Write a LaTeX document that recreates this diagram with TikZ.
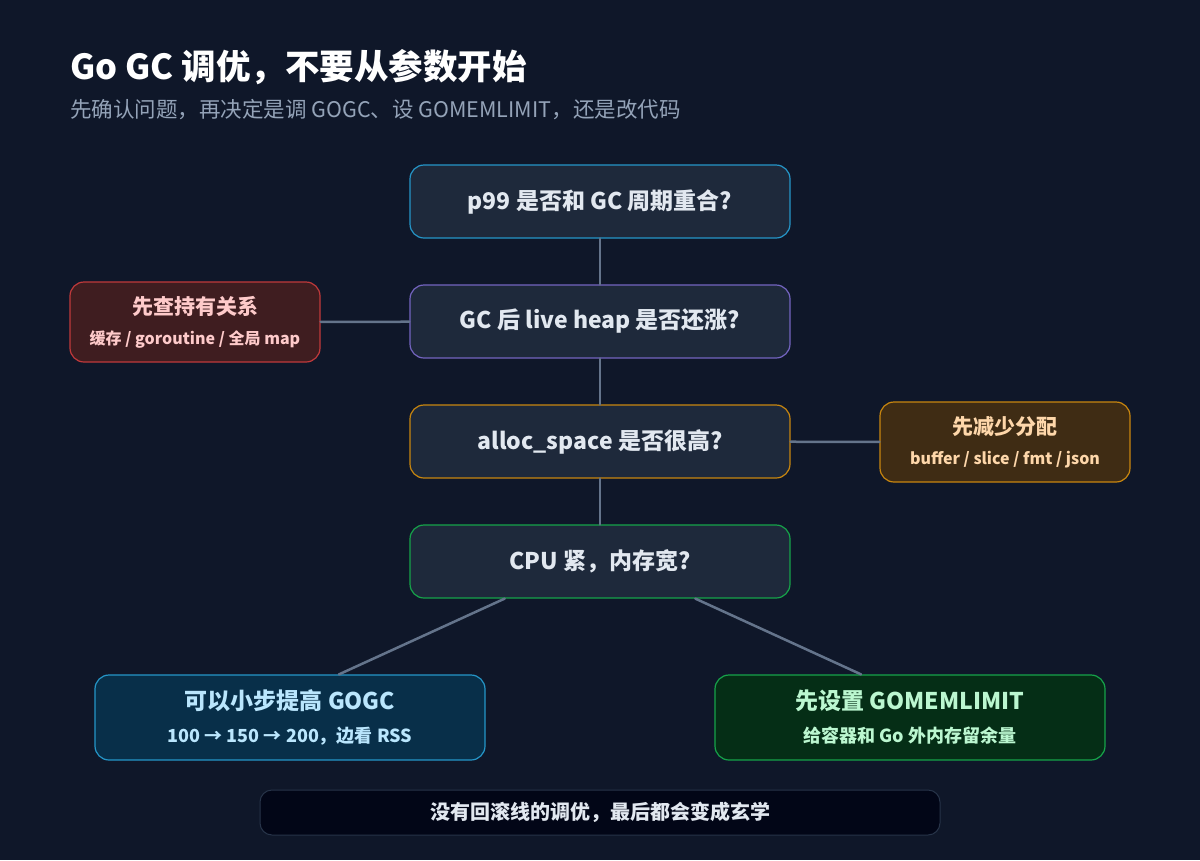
\documentclass[tikz,border=0pt]{standalone}
\usepackage{fontspec}
\setmainfont{Noto Sans CJK SC}
\usetikzlibrary{calc}
\definecolor{bgc}{HTML}{0F1729}
\definecolor{qfill}{HTML}{1E293B}
\definecolor{qtext}{HTML}{E2E8F0}
\definecolor{linec}{HTML}{64748B}
\definecolor{subc}{HTML}{94A3B8}
\definecolor{cyanb}{HTML}{2596C8}
\definecolor{purpb}{HTML}{7464C0}
\definecolor{amberb}{HTML}{C8860F}
\definecolor{greenb}{HTML}{16A34A}
\definecolor{redf}{HTML}{3F1D20}
\definecolor{redb}{HTML}{C0393B}
\definecolor{redt}{HTML}{FECACA}
\definecolor{brownf}{HTML}{3F2C14}
\definecolor{brownt}{HTML}{FED7AA}
\definecolor{bluef}{HTML}{082F49}
\definecolor{bluet}{HTML}{BAE6FD}
\definecolor{greenf}{HTML}{052E16}
\definecolor{greent}{HTML}{BBF7D0}
\definecolor{footf}{HTML}{020617}
\definecolor{footb}{HTML}{273449}

\begin{document}
\begin{tikzpicture}[x=1pt,y=-1pt,line cap=round,line join=round,
  qbox/.style={draw,line width=1.2pt,rounded corners=14pt,fill=qfill,text=qtext,minimum width=380pt,minimum height=73pt,font=\fontsize{23}{27}\selectfont\bfseries},
  sidebox/.style={draw,line width=1.2pt,rounded corners=14pt,minimum width=250pt,minimum height=80pt,align=center,font=\fontsize{21}{30}\selectfont\bfseries},
  leafbox/.style={draw,line width=1.2pt,rounded corners=14pt,minimum width=390pt,minimum height=85pt,align=center,font=\fontsize{23}{33}\selectfont\bfseries},
  link/.style={draw=linec,line width=2.5pt}]
\fill[bgc] (0,0) rectangle (1200,860);
\node[anchor=base west,text=white,font=\fontsize{34.5}{40}\selectfont\bfseries,inner sep=0] (title) at (70,79) {Go GC 调优，不要从参数开始};
\node[anchor=base west,text=subc,font=\fontsize{21.5}{25}\selectfont,inner sep=0] (subtitle) at (70,117) {先确认问题，再决定是调 GOGC、设 GOMEMLIMIT，还是改代码};
\node[qbox,draw=cyanb] (p99) at (600,201.5) {p99 是否和 GC 周期重合?};
\node[qbox,draw=purpb] (heap) at (600,321.5) {GC 后 live heap 是否还涨?};
\node[qbox,draw=amberb] (alloc) at (600,441.5) {alloc\_space 是否很高?};
\node[qbox,draw=greenb] (cpu) at (600,561.5) {CPU 紧，内存宽?};
\node[sidebox,draw=redb,fill=redf,text=redt] (hold) at (195,322) {先查持有关系\\{\fontsize{16}{19}\selectfont 缓存 / goroutine / 全局 map}};
\node[sidebox,draw=amberb,fill=brownf,text=brownt] (reduce) at (1005,442) {先减少分配\\{\fontsize{16}{19}\selectfont buffer / slice / fmt / json}};
\node[leafbox,draw=cyanb,fill=bluef,text=bluet] (gogc) at (290,717.5) {可以小步提高 GOGC\\{\fontsize{18}{21}\selectfont 100 → 150 → 200，边看 RSS}};
\node[leafbox,draw=greenb,fill=greenf,text=greent] (limit) at (910,717.5) {先设置 GOMEMLIMIT\\{\fontsize{18}{21}\selectfont 给容器和 Go 外内存留余量}};
\node[draw=footb,line width=1pt,rounded corners=12pt,fill=footf,text=qtext,minimum width=680pt,minimum height=45pt,font=\fontsize{20}{24}\selectfont\bfseries] (foot) at (600,812.5) {没有回滚线的调优，最后都会变成玄学};
\draw[link] (p99) -- (heap);
\draw[link] (heap) -- (alloc);
\draw[link] (alloc) -- (cpu);
\draw[link] (hold) -- (heap);
\draw[link] (alloc) -- (reduce);
\draw[link] ($(cpu.south)!0.5!(cpu.south west)$) -- ($(gogc.north)!0.25!(gogc.north east)$);
\draw[link] ($(cpu.south)!0.5!(cpu.south east)$) -- ($(limit.north)!0.25!(limit.north west)$);
\end{tikzpicture}
\end{document}
